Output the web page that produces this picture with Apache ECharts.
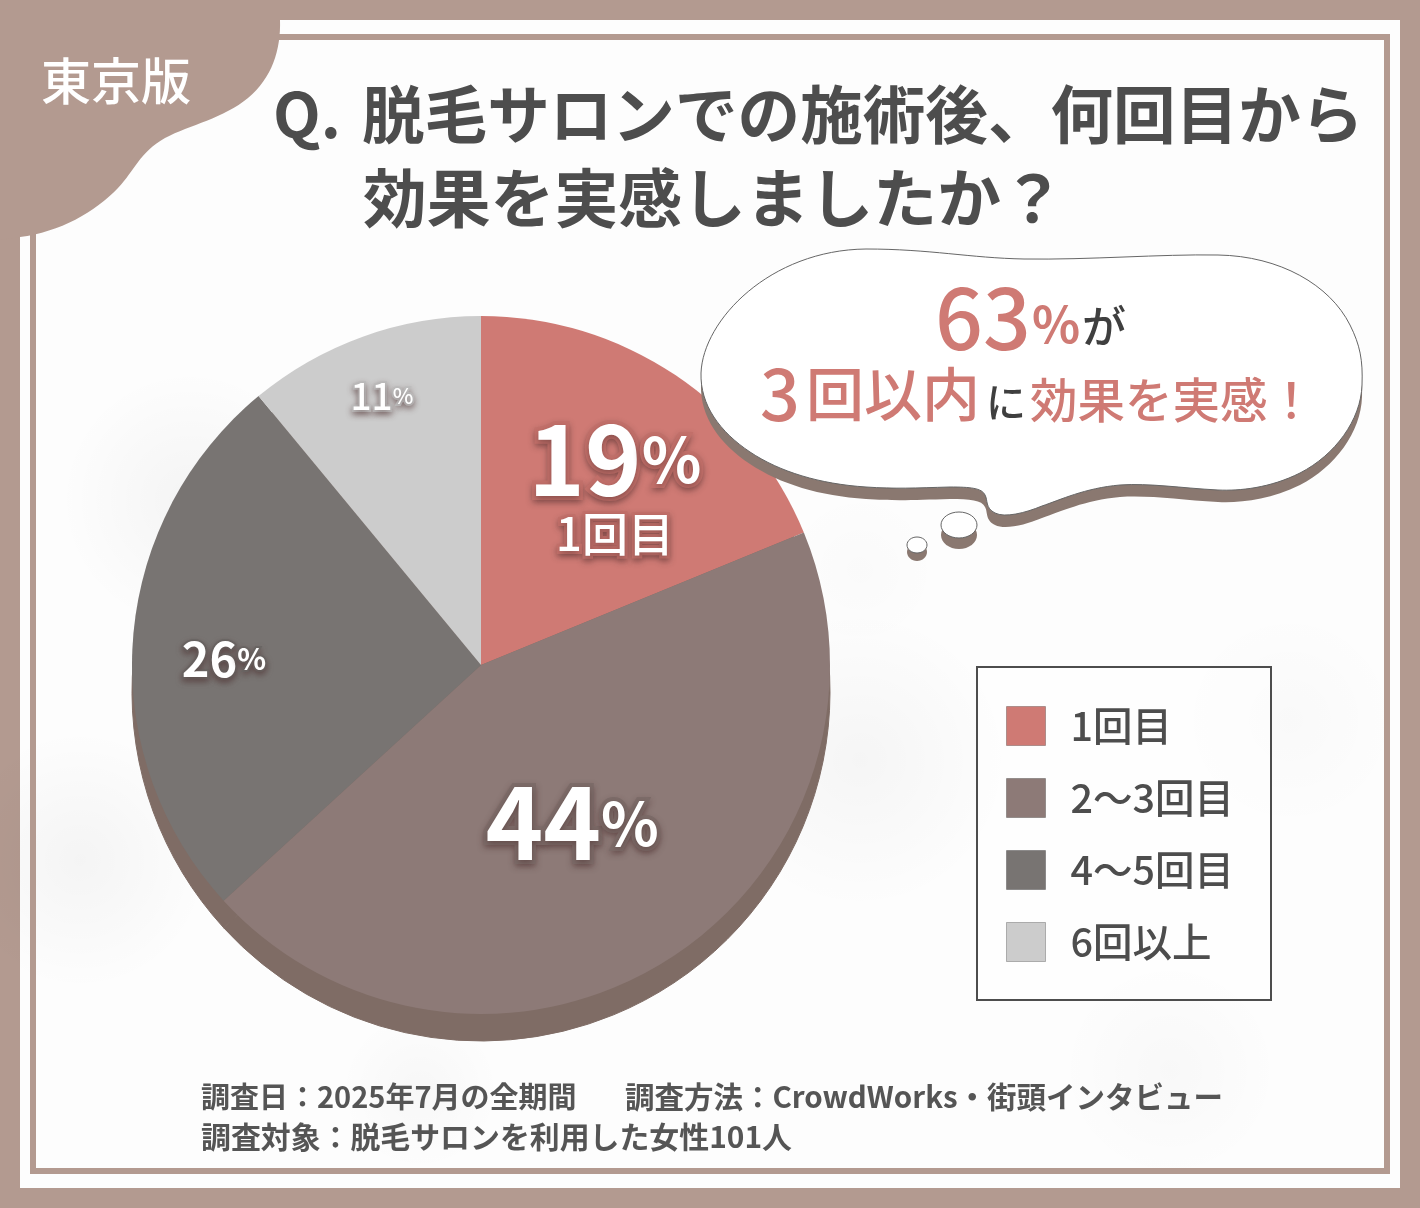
<!DOCTYPE html>
<html lang="ja"><head><meta charset="utf-8">
<style>html,body{margin:0;padding:0;background:#b39a90}#c{width:1420px;height:1208px}</style>
<script src="https://cdn.jsdelivr.net/npm/echarts@6/dist/echarts.min.js"></script>
</head><body><div id="c"></div>
<script>
const categories = ['1回目','2〜3回目','4〜5回目','6回以上'];
const values = [18.8,44.4,25.8,11];
const percentLabels = [19,44,26,11];
const colors = ['#cf7a74','#8d7a77','#787472','#cccccc'];
const FONT = '"Noto Sans CJK JP","Noto Sans",sans-serif';
const BROWN = '#b39a90', INK = '#4d4d4d', PINK = '#cf7a74';

const chart = echarts.init(document.getElementById('c'), null, {renderer:'canvas', width:1420, height:1208});

const Blob = echarts.graphic.extendPath('M0 0L280 0L280 20C281 50 272 78 248 98C224 118 190 125 165 138C140 152 135 170 118 188C95 212 60 232 20 237L0 240Z', {});
const Bubble = echarts.graphic.extendPath('M701 373C703 320 770 250 866 249C930 249 970 258 1024 259C1090 260 1160 254 1218 255C1280 256 1330 285 1350 325C1360 345 1363 360 1362 385C1361 420 1335 455 1300 473C1270 488 1240 491 1218 490C1180 488 1150 483 1120 485C1085 488 1060 500 1042 506C1025 513 1005 518 995 513C985 508 988 500 985 495C982 488 970 487 950 487C915 488 895 489 866 487C820 484 780 472 750 452C720 432 700 405 701 373Z', {});
echarts.graphic.registerShape('blobShape', Blob);
echarts.graphic.registerShape('bubbleShape', Bubble);

function txt(text, x, y, size, fill, w){
  return {type:'text', z:20, x:x, y:y, silent:true, style:{text:text, fontSize:size, fontFamily:FONT, fontWeight:w||500, fill:fill, textVerticalAlign:'middle', textAlign:'left'}};
}
function patch(cx,cy,rx,ry,a){
  return {type:'rect', z:1, silent:true, shape:{x:cx-rx,y:cy-ry,width:rx*2,height:ry*2},
    style:{fill:{type:'radial',x:.5,y:.5,r:.5,colorStops:[{offset:0,color:'rgba(0,0,0,'+a+')'},{offset:1,color:'rgba(0,0,0,0)'}]}}};
}
function lab(rich, text, offset){
  return {show:true, position:'inside', formatter:text, offset:offset, rich:rich, align:'center', verticalAlign:'middle'};
}
function st(size, weight, border, bw, h){
  return {fontSize:size, fontWeight:weight, fontFamily:FONT, color:'#fff', textBorderColor:border, textBorderWidth:bw,
    textShadowColor:'rgba(70,40,40,.45)', textShadowBlur:6, textShadowOffsetY:3, lineHeight:h||size*1.1};
}
const pieData = categories.map((n,i)=>({name:n, value:values[i], itemStyle:{color:colors[i]}}));
pieData[0].label = lab({b:st(96,700,'#c26f69',8,92), p:st(62,700,'#c26f69',8,92), s:st(46,500,'#c26f69',6,56)}, '{b|'+percentLabels[0]+'}{p|%}\n{s|'+categories[0]+'}', [35,-30]);
pieData[1].label = lab({b:st(98,700,'#7b6a67',8,100), p:st(60,700,'#7b6a67',8,100)}, '{b|'+percentLabels[1]+'}{p|%}', [-4,8]);
pieData[2].label = lab({b:st(47,600,'#6a6664',4,56), p:st(30,600,'#6a6664',4,56)}, '{b|'+percentLabels[2]+'}{p|%}', [-80,6]);
pieData[3].label = lab({b:st(37,500,'#bdbdbd',4,44), p:st(22,500,'#bdbdbd',4,44)}, '{b|'+percentLabels[3]+'}{p|%}', [-39,-102]);

chart.setOption({
  animation:false,
  backgroundColor:BROWN,
  legend:{
    orient:'vertical', left:1006, top:706, padding:0, itemWidth:39, itemHeight:39, itemGap:32, icon:'rect',
    data:categories, selectedMode:false,
    textStyle:{fontSize:39.5, lineHeight:40, fontFamily:FONT, color:INK, fontWeight:500, padding:[0,0,0,20]},
    itemStyle:{borderWidth:1, borderColor:'rgba(0,0,0,.25)'}
  },
  series:[
    {type:'pie', name:'depth', z:2, silent:true, center:[481,692], radius:349, startAngle:90, label:{show:false}, labelLine:{show:false},
     itemStyle:{color:'#7f6c65', borderColor:'#7f6c65', borderWidth:1}, data:values.map((v,i)=>({name:'厚み'+(i+1), value:v})), legendHoverLink:false},
    {type:'pie', name:'main', z:3, silent:true, center:[481,665], radius:349, startAngle:90, avoidLabelOverlap:false,
     labelLine:{show:false}, data:pieData}
  ],
  graphic:{elements:[
    {type:'rect', z:0, silent:true, shape:{x:20,y:20,width:1380,height:1168}, style:{fill:'#fdfdfd'}},
    patch(190,500,230,130,.035), patch(80,860,130,240,.035), patch(860,760,190,150,.03),
    patch(1170,1070,260,110,.02), patch(420,1090,320,80,.025), patch(1290,720,110,240,.015), patch(860,570,160,80,.012),
    {type:'rect', z:2, silent:true, shape:{x:33,y:37,width:1354,height:1134}, style:{fill:'none', stroke:BROWN, lineWidth:6}},
    {type:'rect', z:2, silent:true, shape:{x:977,y:667,width:294,height:333}, style:{fill:'rgba(255,255,255,.45)', stroke:'#4d4d4d', lineWidth:2}},
    {type:'blobShape', z:5, silent:true, style:{fill:BROWN}},
    txt('東京版',41,81,50,'#fff'),
    txt('Q.',273,114,62,INK,700),
    txt('脱毛サロンでの施術後、何回目から',362,114,62.6,INK,700),
    txt('効果を実感しましたか？',363,198,63.8,INK,700),

    {type:'bubbleShape', z:10, silent:true, y:12, style:{fill:'#8a7870'}},
    {type:'bubbleShape', z:11, silent:true, style:{fill:'#fff', stroke:'#666', lineWidth:1}},
    {type:'ellipse', z:10, silent:true, shape:{cx:959,cy:535,rx:18,ry:14}, style:{fill:'#8a7870'}},
    {type:'ellipse', z:11, silent:true, shape:{cx:959,cy:525,rx:18,ry:13}, style:{fill:'#fff', stroke:'#666', lineWidth:1}},
    {type:'ellipse', z:10, silent:true, shape:{cx:917,cy:552,rx:10,ry:9}, style:{fill:'#8a7870'}},
    {type:'ellipse', z:11, silent:true, shape:{cx:917,cy:545,rx:10,ry:8}, style:{fill:'#fff', stroke:'#666', lineWidth:1}},
    txt('63',935,318,84,PINK),
    txt('%',1032,324,50,PINK,700),
    txt('が',1082,326,44,'#3f3f3f'),
    txt('3',760,394,70,PINK),
    txt('回以内',806,394,58,PINK),
    txt('に',986,402,40,'#3f3f3f'),
    txt('効果を実感！',1030,400,47.5,PINK),

    txt('調査日：2025年7月の全期間',201,1097,29,'#555',600),
    txt('調査方法：CrowdWorks・街頭インタビュー',625,1097,29.5,'#555',600),
    txt('調査対象：脱毛サロンを利用した女性101人',201,1137,29.9,'#555',600)
  ]}
});
</script></body></html>
